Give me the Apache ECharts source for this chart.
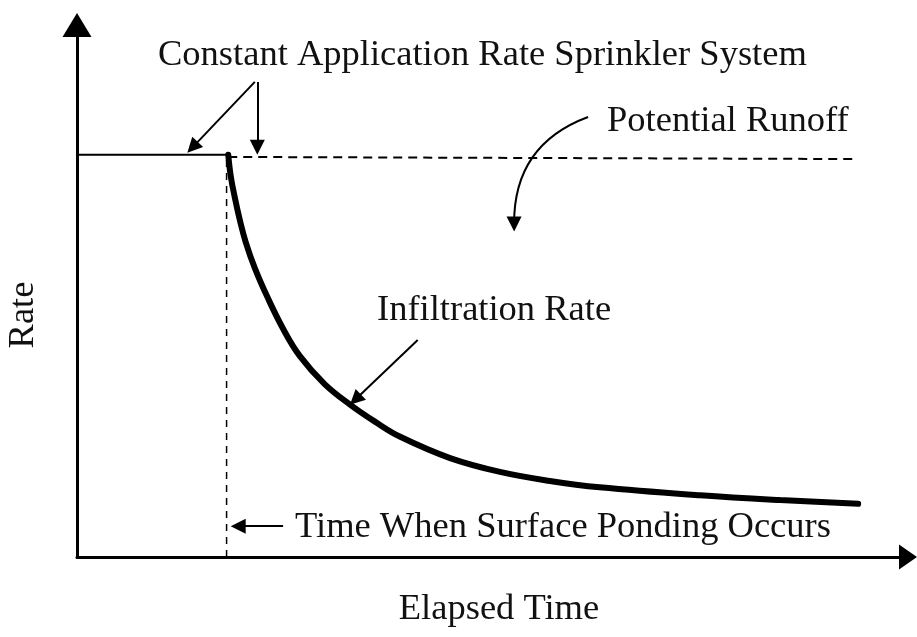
<!DOCTYPE html>
<html>
<head>
<meta charset="utf-8">
<script src="https://cdn.jsdelivr.net/npm/echarts@6/dist/echarts.min.js"></script>
<style>
  html, body { margin: 0; padding: 0; background: #fff; }
  #chart { width: 917px; height: 637px; }
</style>
</head>
<body>
<div id="chart"></div>
<script>
// elapsed time (0-100) against rate (0-100)
const appliedRate = [[0, 75.6], [18.2, 75.6]]
const runoffLevel = [[18.2, 75.2], [94, 74.8]]
const pondingTime = [[18.0, 0], [18.0, 75.6]]
const infiltration = [
  [18.2, 75.6], [18.5, 71.6], [19.0, 67.5], [19.6, 63.3], [20.3, 59.2],
  [21.4, 54.3], [22.9, 48.9], [24.8, 42.9], [26.8, 37.8], [29.8, 32.5],
  [32.9, 28.6], [35.9, 25.4], [38.9, 22.6], [44.9, 18.6], [50.9, 16.0],
  [56.9, 14.3], [62.9, 13.1], [75.0, 11.6], [84.6, 10.7], [94.0, 10.0]
]
// annotation arrows: tail, head, bend
const arrowTails = [[21.4, 89.3], [21.7, 89.3], [61.5, 82.7], [41.0, 40.8], [24.8, 5.8]]
const arrowHeads = [[13.9, 77.0], [21.7, 77.0], [52.6, 62.6], [33.5, 29.6], [19.4, 5.8]]
const arrowBends = [0, 0, -0.35, 0, 0]

const labels = [
  'Constant Application Rate Sprinkler System',
  'Potential Runoff',
  'Infiltration Rate',
  'Time When Surface Ponding Occurs'
]
const axisNames = ['Elapsed Time', 'Rate']

const FONT = '36.5px "Liberation Serif", "DejaVu Serif", serif'
const INK = '#111'

const chart = echarts.init(document.getElementById('chart'))

function txt(text, x, y, extra) {
  return Object.assign({
    type: 'text',
    x: x,
    y: y,
    style: { text: text, font: FONT, fill: INK, align: 'left', verticalAlign: 'middle' }
  }, extra || {})
}

const plainLine = (name, data, width, dash) => ({
  name: name,
  type: 'line',
  data: data,
  symbol: 'none',
  silent: true,
  lineStyle: { color: '#000', width: width, type: dash || 'solid' }
})

const option = {
  backgroundColor: '#fff',
  animation: false,
  grid: { left: 77, right: 9, top: 25, bottom: 80 },
  xAxis: {
    type: 'value', min: 0, max: 100,
    axisLine: {
      lineStyle: { color: '#000', width: 3 },
      symbol: ['none', 'triangle'],
      symbolSize: [25, 18]
    },
    axisTick: { show: false },
    axisLabel: { show: false },
    splitLine: { show: false }
  },
  yAxis: {
    type: 'value', min: 0, max: 100,
    axisLine: {
      show: true,
      lineStyle: { color: '#000', width: 3 },
      symbol: ['none', 'triangle'],
      symbolSize: [29, 24]
    },
    axisTick: { show: false },
    axisLabel: { show: false },
    splitLine: { show: false }
  },
  series: [
    plainLine('applied', appliedRate, 2),
    plainLine('runoff', runoffLevel, 2, [9, 6]),
    plainLine('ponding', pondingTime, 1.5, [7, 6]),
    {
      name: 'infiltration',
      type: 'line',
      data: infiltration,
      smooth: 0.4,
      symbol: 'none',
      silent: true,
      lineStyle: { color: '#000', width: 6, cap: 'round' }
    },
    {
      name: 'arrows',
      type: 'lines',
      coordinateSystem: 'cartesian2d',
      silent: true,
      symbol: ['none', 'triangle'],
      symbolSize: [13, 15],
      lineStyle: { color: '#000', width: 2, opacity: 1 },
      data: arrowTails.map((t, i) => ({
        coords: [t, arrowHeads[i]],
        lineStyle: { curveness: arrowBends[i] }
      }))
    }
  ],
  graphic: [
    txt(labels[0], 158, 55),
    txt(labels[1], 607, 121),
    txt(labels[2], 377, 310),
    txt(labels[3], 295, 527),
    txt(axisNames[0], 499, 609, { style: { text: axisNames[0], font: FONT, fill: INK, align: 'center', verticalAlign: 'middle' } }),
    txt(axisNames[1], 23, 315, {
      rotation: Math.PI / 2,
      style: { text: axisNames[1], font: FONT, fill: INK, align: 'center', verticalAlign: 'middle' }
    })
  ]
}

chart.setOption(option)
</script>
</body>
</html>
